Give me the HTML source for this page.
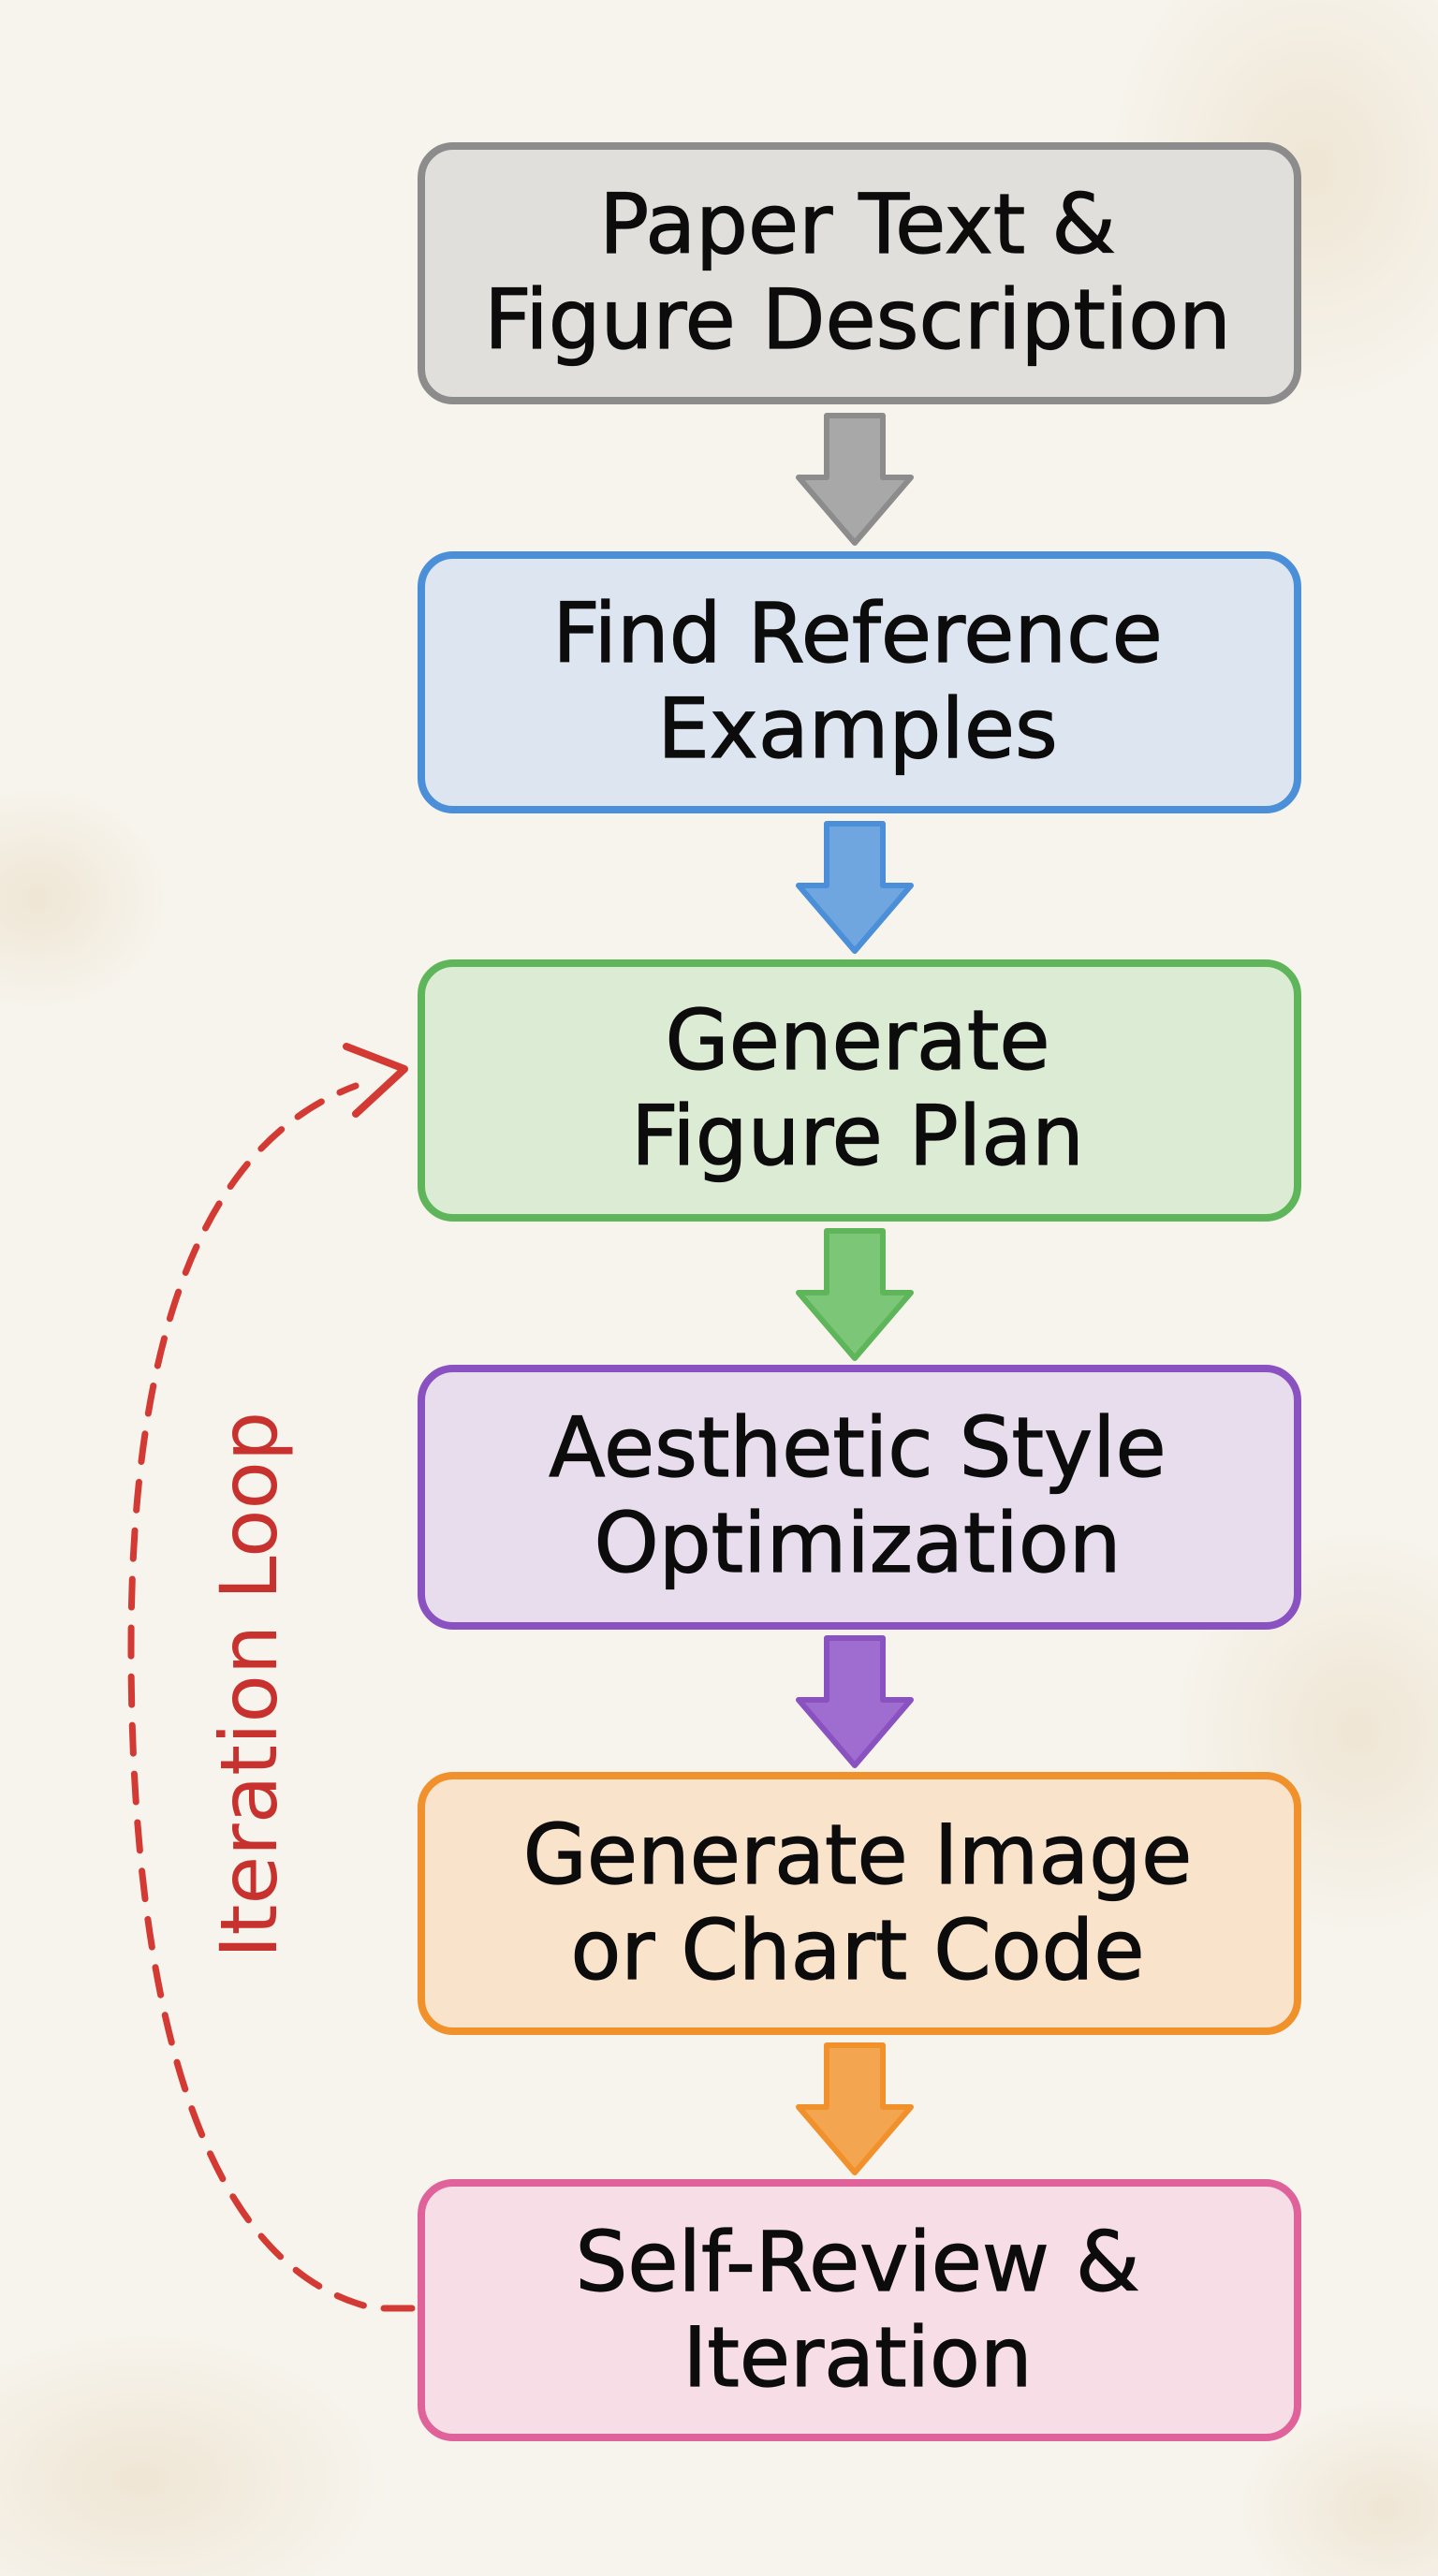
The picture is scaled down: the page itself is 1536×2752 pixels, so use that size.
<!DOCTYPE html>
<html><head><meta charset="utf-8"><style>
html,body{margin:0;padding:0;width:1536px;height:2752px;overflow:hidden;background:#f7f4ed;}
svg{display:block}
text{font-family:"DejaVu Sans","Liberation Sans",sans-serif;}
</style></head><body>
<svg width="1536" height="2752" viewBox="0 0 1536 2752" xmlns="http://www.w3.org/2000/svg">
<defs>
<radialGradient id="st" cx="50%" cy="50%" r="50%"><stop offset="0" stop-color="#e9dcc4" stop-opacity="0.6"/><stop offset="1" stop-color="#e9dcc4" stop-opacity="0"/></radialGradient>
</defs>
<rect width="1536" height="2752" fill="#f7f4ed"/>
<ellipse cx="1400" cy="180" rx="220" ry="260" fill="url(#st)"/>
<ellipse cx="40" cy="960" rx="140" ry="120" fill="url(#st)"/>
<ellipse cx="1450" cy="1850" rx="200" ry="220" fill="url(#st)"/>
<ellipse cx="150" cy="2650" rx="260" ry="160" fill="url(#st)"/>
<ellipse cx="1480" cy="2680" rx="160" ry="120" fill="url(#st)"/>

<g stroke-width="8">
<rect x="450" y="156" width="936" height="272" rx="34" fill="#e0dfdb" stroke="#8c8c8c"/>
<rect x="450" y="593" width="936" height="272" rx="34" fill="#dde6f0" stroke="#4a8fd8"/>
<rect x="450" y="1029" width="936" height="272" rx="34" fill="#dcebd4" stroke="#5fb65a"/>
<rect x="450" y="1462" width="936" height="275" rx="34" fill="#e7ddec" stroke="#8a52c0"/>
<rect x="450" y="1897" width="936" height="273" rx="34" fill="#fae3cb" stroke="#f0912c"/>
<rect x="450" y="2332" width="936" height="272" rx="34" fill="#f7dde5" stroke="#e0629a"/>
</g>

<g stroke-width="6" stroke-linejoin="round">
<path d="M883 444 h60 v66 h30 l-60 70 l-60 -70 h30 z" fill="#a8a8a8" stroke="#8c8c8c"/>
<path d="M883 880 h60 v66 h30 l-60 70 l-60 -70 h30 z" fill="#6fa6df" stroke="#4a8fd8"/>
<path d="M883 1315 h60 v66 h30 l-60 70 l-60 -70 h30 z" fill="#7cc777" stroke="#5fb65a"/>
<path d="M883 1750 h60 v66 h30 l-60 70 l-60 -70 h30 z" fill="#9f6cd0" stroke="#8a52c0"/>
<path d="M883 2185 h60 v66 h30 l-60 70 l-60 -70 h30 z" fill="#f4a550" stroke="#f0912c"/>
</g>

<g font-size="88" fill="#0c0c0c" text-anchor="middle" stroke="#0c0c0c" stroke-width="1.2">
<text x="916" y="270">Paper Text &amp;</text>
<text x="916" y="372">Figure Description</text>
<text x="916" y="707">Find Reference</text>
<text x="916" y="809">Examples</text>
<text x="916" y="1142">Generate</text>
<text x="916" y="1244">Figure Plan</text>
<text x="916" y="1577">Aesthetic Style</text>
<text x="916" y="1679">Optimization</text>
<text x="916" y="2012">Generate Image</text>
<text x="916" y="2114">or Chart Code</text>
<text x="916" y="2447">Self-Review &amp;</text>
<text x="916" y="2549">Iteration</text>
</g>

<path d="M440 2466 L400 2466 C200 2420 140 2100 140 1760 C140 1420 220 1220 380 1160" fill="none" stroke="#d33a34" stroke-width="7" stroke-dasharray="30 22" stroke-linecap="round"/>
<path d="M370 1118 L432 1142 L380 1190" fill="none" stroke="#d33a34" stroke-width="8" stroke-linejoin="round" stroke-linecap="round"/>
<text x="272" y="1800" font-size="84" fill="#c8322e" text-anchor="middle" dominant-baseline="middle" transform="rotate(-90 272 1800)">Iteration Loop</text>
</svg>
</body></html>
